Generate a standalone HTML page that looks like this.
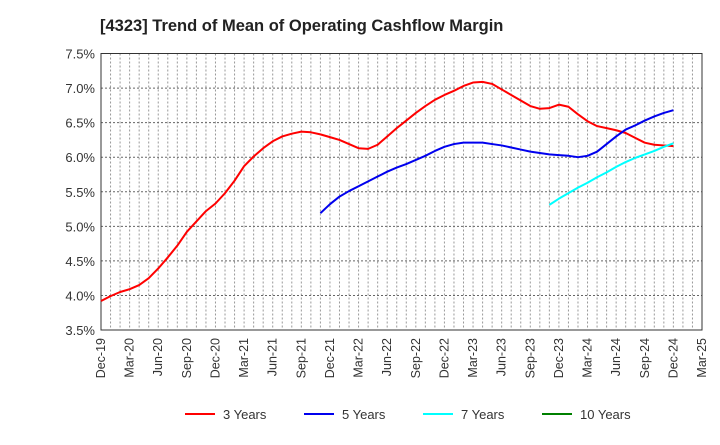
<!DOCTYPE html>
<html><head><meta charset="utf-8"><style>
body{margin:0;background:#fff;font-family:"Liberation Sans",Arial,sans-serif}
svg text{font-family:"Liberation Sans",Arial,sans-serif}
</style></head><body>
<svg id="c" width="720" height="440" xmlns="http://www.w3.org/2000/svg">
<text x="100" y="31" font-size="16.5" font-weight="bold" fill="#222">[4323]  Trend of Mean of Operating Cashflow Margin</text>
</svg>
<script>
const months=["Dec-19","Mar-20","Jun-20","Sep-20","Dec-20","Mar-21","Jun-21","Sep-21","Dec-21","Mar-22","Jun-22","Sep-22","Dec-22","Mar-23","Jun-23","Sep-23","Dec-23","Mar-24","Jun-24","Sep-24","Dec-24","Mar-25"];
const yTicks=[3.5,4.0,4.5,5.0,5.5,6.0,6.5,7.0,7.5];
const s3Start=0;
const s3=[3.92,3.99,4.05,4.09,4.15,4.25,4.39,4.55,4.72,4.92,5.07,5.22,5.33,5.48,5.66,5.87,6.01,6.13,6.23,6.30,6.34,6.37,6.36,6.33,6.29,6.25,6.19,6.13,6.12,6.18,6.30,6.42,6.53,6.64,6.74,6.83,6.90,6.96,7.03,7.08,7.09,7.06,6.98,6.90,6.82,6.74,6.70,6.71,6.76,6.73,6.62,6.52,6.45,6.42,6.39,6.35,6.28,6.21,6.18,6.17,6.16];
const s5Start=23;
const s5=[5.19,5.32,5.43,5.51,5.58,5.65,5.72,5.79,5.85,5.90,5.96,6.02,6.09,6.15,6.19,6.21,6.21,6.21,6.19,6.17,6.14,6.11,6.08,6.06,6.04,6.03,6.02,6.00,6.02,6.08,6.19,6.30,6.40,6.46,6.53,6.59,6.64,6.68];
const s7Start=47;
const s7=[5.31,5.40,5.48,5.56,5.63,5.71,5.78,5.86,5.93,5.99,6.04,6.09,6.15,6.20];
const s10=[];
const L=101,R=702,T=53.5,B=330,NM=63,YMIN=3.5,YMAX=7.5;
const X=i=>L+(R-L)*i/NM, Y=v=>B-(B-T)*(v-YMIN)/(YMAX-YMIN);
const svg=document.getElementById('c'),NS="http://www.w3.org/2000/svg";
function mk(t,a,p){const e=document.createElementNS(NS,t);for(const k in a)e.setAttribute(k,a[k]);(p||svg).appendChild(e);return e;}
const g=mk('g',{});


for(let i=1;i<NM;i++)mk('line',{x1:X(i),x2:X(i),y1:T,y2:B,stroke:'#999','stroke-width':1,'stroke-dasharray':'2,2'},g);
yTicks.forEach(v=>{if(v>YMIN&&v<YMAX)mk('line',{x1:L,x2:R,y1:Y(v),y2:Y(v),stroke:'#666','stroke-width':1,'stroke-dasharray':'2,2'},g);
const t=mk('text',{x:L-6,y:Y(v)+5,'text-anchor':'end','font-size':13,fill:'#333'});t.textContent=v.toFixed(1)+'%';

});
const fr=mk('rect',{x:L,y:T,width:R-L,height:B-T,fill:'none',stroke:'#333','stroke-width':1});


months.forEach((m,k)=>{const x=X(k*3)+4,y=B+8;const t=mk('text',{x:x,y:y,'text-anchor':'end','font-size':12.5,fill:'#333',transform:`rotate(-90 ${x} ${y})`});t.textContent=m;

});
function line(d,st,col,name){if(!d.length)return;const p=mk('polyline',{points:d.map((v,i)=>X(st+i)+','+Y(v)).join(' '),fill:'none',stroke:col,'stroke-width':2,'stroke-linejoin':'round'});

}
line(s3,s3Start,'#ff0000','series-3-years');
line(s5,s5Start,'#0000ee','series-5-years');
line(s7,s7Start,'#00ffff','series-7-years');
line(s10,0,'#008000','series-10-years');
const leg=[['3 Years','#ff0000',185],['5 Years','#0000ee',304],['7 Years','#00ffff',423],['10 Years','#008000',542]];
leg.forEach(([n,c,x])=>{const gg=mk('g',{});


mk('line',{x1:x,x2:x+30,y1:414,y2:414,stroke:c,'stroke-width':2},gg);
const t=mk('text',{x:x+38,y:419,'font-size':13,fill:'#333'},gg);t.textContent=n;});
</script>
</body></html>
